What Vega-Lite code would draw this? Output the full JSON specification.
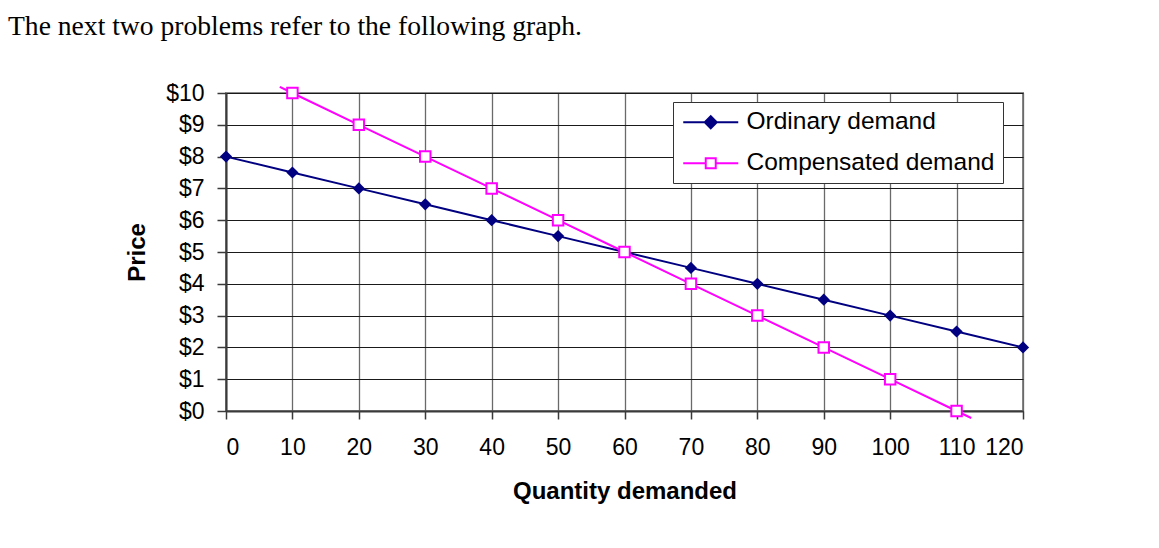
{
  "$schema": "https://vega.github.io/schema/vega-lite/v6.json",
  "autosize": "none",
  "width": 797,
  "height": 318,
  "padding": {"left": 226, "top": 93, "right": 136, "bottom": 137},
  "background": "white",
  "title": {
    "text": "The next two problems refer to the following graph.",
    "anchor": "start",
    "frame": "group",
    "dx": -218,
    "offset": 41,
    "font": "Liberation Serif",
    "fontSize": 27.6,
    "fontWeight": "normal",
    "color": "black"
  },
  "config": {
    "view": {"stroke": "#8a8a8a", "strokeWidth": 2},
    "font": "Liberation Sans"
  },
  "data": {
    "values": [
      {"series": "Ordinary demand", "q": 0, "price": 8, "marker": true},
      {"series": "Ordinary demand", "q": 10, "price": 7.5, "marker": true},
      {"series": "Ordinary demand", "q": 20, "price": 7, "marker": true},
      {"series": "Ordinary demand", "q": 30, "price": 6.5, "marker": true},
      {"series": "Ordinary demand", "q": 40, "price": 6, "marker": true},
      {"series": "Ordinary demand", "q": 50, "price": 5.5, "marker": true},
      {"series": "Ordinary demand", "q": 60, "price": 5, "marker": true},
      {"series": "Ordinary demand", "q": 70, "price": 4.5, "marker": true},
      {"series": "Ordinary demand", "q": 80, "price": 4, "marker": true},
      {"series": "Ordinary demand", "q": 90, "price": 3.5, "marker": true},
      {"series": "Ordinary demand", "q": 100, "price": 3, "marker": true},
      {"series": "Ordinary demand", "q": 110, "price": 2.5, "marker": true},
      {"series": "Ordinary demand", "q": 120, "price": 2, "marker": true},
      {"series": "Compensated demand", "q": 8.1, "price": 10.19, "marker": false},
      {"series": "Compensated demand", "q": 10, "price": 10, "marker": true},
      {"series": "Compensated demand", "q": 20, "price": 9, "marker": true},
      {"series": "Compensated demand", "q": 30, "price": 8, "marker": true},
      {"series": "Compensated demand", "q": 40, "price": 7, "marker": true},
      {"series": "Compensated demand", "q": 50, "price": 6, "marker": true},
      {"series": "Compensated demand", "q": 60, "price": 5, "marker": true},
      {"series": "Compensated demand", "q": 70, "price": 4, "marker": true},
      {"series": "Compensated demand", "q": 80, "price": 3, "marker": true},
      {"series": "Compensated demand", "q": 90, "price": 2, "marker": true},
      {"series": "Compensated demand", "q": 100, "price": 1, "marker": true},
      {"series": "Compensated demand", "q": 110, "price": 0, "marker": true},
      {"series": "Compensated demand", "q": 112.2, "price": -0.22, "marker": false}
    ]
  },
  "encoding": {
    "x": {
      "field": "q",
      "type": "quantitative",
      "scale": {"domain": [0, 120], "nice": false, "zero": false},
      "axis": {
        "title": "Quantity demanded",
        "values": [0, 10, 20, 30, 40, 50, 60, 70, 80, 90, 100, 110, 120],
        "grid": true,
        "gridColor": "#6a6a6a",
        "gridWidth": 1.3,
        "domainColor": "#3a3a3a",
        "domainWidth": 2,
        "tickColor": "#3a3a3a",
        "tickWidth": 1.5,
        "tickSize": 8,
        "labelFontSize": 23,
        "labelColor": "black",
        "labelPadding": 17,
        "labelFont": "Liberation Sans",
        "titleFont": "Liberation Sans",
        "titleFontSize": 24,
        "titleFontWeight": "bold",
        "titleColor": "black",
        "titlePadding": 20
      }
    },
    "y": {
      "field": "price",
      "type": "quantitative",
      "scale": {"domain": [0, 10], "nice": false, "zero": false},
      "axis": {
        "title": "Price",
        "values": [0, 1, 2, 3, 4, 5, 6, 7, 8, 9, 10],
        "labelExpr": "'$' + datum.value",
        "grid": true,
        "gridColor": "#1a1a1a",
        "gridWidth": 1,
        "domainColor": "#3a3a3a",
        "domainWidth": 2,
        "tickColor": "#3a3a3a",
        "tickWidth": 1.5,
        "tickSize": 9,
        "labelFontSize": 23,
        "labelColor": "black",
        "labelPadding": 13,
        "labelFont": "Liberation Sans",
        "titleFont": "Liberation Sans",
        "titleFontSize": 24,
        "titleFontWeight": "bold",
        "titleColor": "black",
        "titlePadding": 16
      }
    }
  },
  "layer": [
    {
      "mark": {"type": "line", "strokeWidth": 2, "clip": false},
      "encoding": {
        "color": {
          "field": "series",
          "type": "nominal",
          "scale": {"domain": ["Ordinary demand", "Compensated demand"], "range": ["#000080", "#ff00ff"]},
          "legend": {
            "title": null,
            "orient": "none",
            "legendX": 447,
            "legendY": 9,
            "padding": 8,
            "strokeColor": "#333333",
            "fillColor": "white",
            "labelFont": "Liberation Sans",
            "labelFontSize": 24.5,
            "labelColor": "black",
            "labelLimit": 500,
            "labelOffset": 41,
            "rowPadding": 16,
            "symbolSize": 400,
            "symbolStrokeWidth": 2,
            "encode": {
              "symbols": {
                "update": {
                  "shape": {"signal": "datum.value === 'Ordinary demand' ? 'M-1,0H4.5M1.75,-0.6L2.35,0L1.75,0.6L1.15,0Z' : 'M-1,0H1.25M2.25,0H4.5M1.25,-0.5H2.25V0.5H1.25ZM1.25,-0.5V0.5H2.25V-0.5Z'"},
                  "stroke": {"signal": "datum.value === 'Ordinary demand' ? '#000080' : '#ff00ff'"},
                  "strokeWidth": {"value": 2},
                  "opacity": {"value": 1}
                }
              }
            }
          }
        },
        "order": {"field": "q", "type": "quantitative"}
      }
    },
    {
      "transform": [{"filter": "datum.marker && datum.series === 'Ordinary demand'"}],
      "mark": {"type": "point", "shape": "diamond", "filled": true, "size": 150, "opacity": 1},
      "encoding": {
        "color": {"field": "series", "type": "nominal", "legend": null}
      }
    },
    {
      "transform": [{"filter": "datum.marker && datum.series === 'Compensated demand'"}],
      "mark": {"type": "point", "shape": "square", "filled": false, "fill": "white", "fillOpacity": 1, "strokeWidth": 2, "size": 110, "opacity": 1},
      "encoding": {
        "color": {"field": "series", "type": "nominal", "legend": null}
      }
    }
  ]
}
